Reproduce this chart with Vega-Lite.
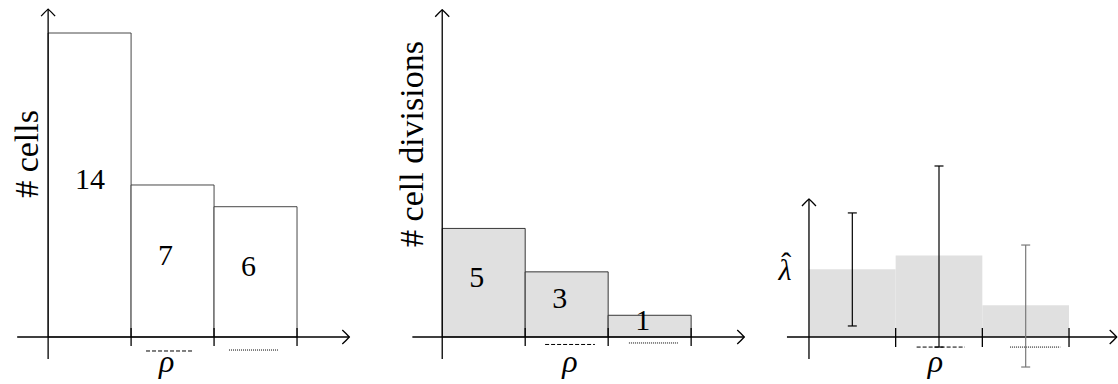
{
  "$schema": "https://vega.github.io/schema/vega-lite/v6.json",
  "padding": 0,
  "spacing": 0,
  "bounds": "flush",
  "background": "white",
  "datasets": {
    "bins": [
      {"bin": 1, "bin_start": 0, "bin_end": 1, "bin_mid": 0.5, "cells": 14, "divisions": 5, "lambda": 0.357, "lo": 0.058, "hi": 0.653},
      {"bin": 2, "bin_start": 1, "bin_end": 2, "bin_mid": 1.5, "cells": 7, "divisions": 3, "lambda": 0.429, "lo": -0.053, "hi": 0.9},
      {"bin": 3, "bin_start": 2, "bin_end": 3, "bin_mid": 2.5, "cells": 6, "divisions": 1, "lambda": 0.167, "lo": -0.158, "hi": 0.484}
    ]
  },
  "data": {"name": "bins"},
  "config": {
    "view": {"stroke": null},
    "axis": {"disable": true},
    "text": {"font": "Liberation Serif", "color": "black"}
  },
  "hconcat": [
    {
      "width": 380,
      "height": 384,
      "resolve": {"scale": {"y": "independent"}},
      "layer": [
        {
          "layer": [
            {
              "mark": {"type": "rect", "fill": "white", "stroke": "#333", "strokeWidth": 0.9},
              "encoding": {
                "x": {"field": "bin_start", "type": "quantitative", "scale": {"domain": [-0.58, 4.0], "nice": false, "zero": false}, "axis": null},
                "x2": {"field": "bin_end"},
                "y": {"field": "cells", "type": "quantitative", "scale": {"domain": [-2.165, 15.52], "nice": false, "zero": false}, "axis": null},
                "y2": {"datum": 0}
              }
            },
            {
              "mark": {"type": "rule", "color": "black", "strokeWidth": 1.3},
              "encoding": {
                "x": {"field": "bin_end", "type": "quantitative", "axis": null},
                "y": {"datum": 0.415, "axis": null},
                "y2": {"datum": -0.415}
              }
            },
            {
              "data": {"values": [{}]},
              "mark": {"type": "rule", "color": "black", "strokeWidth": 1.3},
              "encoding": {"x": {"datum": 0, "axis": null}, "y": {"datum": -1.01, "axis": null}, "y2": {"datum": 15.1}}
            },
            {
              "data": {"values": [{}]},
              "mark": {"type": "rule", "color": "black", "strokeWidth": 1.3},
              "encoding": {"x": {"datum": -0.373, "axis": null}, "x2": {"datum": 3.63}, "y": {"datum": 0, "axis": null}}
            },
            {
              "data": {"values": [{}]},
              "mark": {"type": "point", "shape": "M-1,1 Q-0.4,0.35 0,0 Q0.4,0.35 1,1", "size": 196, "filled": false, "stroke": "black", "strokeWidth": 1.3, "opacity": 1},
              "encoding": {"x": {"datum": 0, "axis": null}, "y": {"datum": 15.1, "axis": null}}
            },
            {
              "data": {"values": [{}]},
              "mark": {"type": "point", "shape": "M-1,-1 Q-0.35,-0.4 0,0 Q-0.35,0.4 -1,1", "size": 196, "filled": false, "stroke": "black", "strokeWidth": 1.3, "opacity": 1},
              "encoding": {"x": {"datum": 3.63, "axis": null}, "y": {"datum": 0, "axis": null}}
            },
            {
              "data": {"values": [{}]},
              "mark": {"type": "rule", "color": "black", "strokeWidth": 1, "strokeDash": [4, 2]},
              "encoding": {"x": {"datum": 1.18, "axis": null}, "x2": {"datum": 1.758}, "y": {"datum": -0.645, "axis": null}}
            },
            {
              "data": {"values": [{}]},
              "mark": {"type": "rule", "color": "black", "strokeWidth": 1, "strokeDash": [1, 1]},
              "encoding": {"x": {"datum": 2.18, "axis": null}, "x2": {"datum": 2.77}, "y": {"datum": -0.6, "axis": null}}
            },
            {
              "data": {"values": [{}]},
              "mark": {"type": "text", "text": "ρ", "font": "Liberation Serif", "fontStyle": "italic", "fontSize": 32, "align": "center", "baseline": "alphabetic"},
              "encoding": {"x": {"datum": 1.43, "axis": null}, "y": {"datum": -1.61, "axis": null}}
            },
            {
              "data": {"values": [{}]},
              "mark": {"type": "text", "text": "# cells", "font": "Liberation Serif", "angle": 270, "fontSize": 34, "align": "center", "baseline": "alphabetic"},
              "encoding": {"x": {"datum": -0.122, "axis": null}, "y": {"datum": 8.43, "axis": null}}
            }
          ]
        },
        {
          "mark": {"type": "text", "font": "Liberation Serif", "align": "left", "baseline": "alphabetic", "dx": 27, "dy": 4, "fontSize": 30},
          "encoding": {
            "x": {"field": "bin_start", "type": "quantitative", "axis": null},
            "y": {"field": "cells", "type": "quantitative", "scale": {"domain": [-4.33, 31.04], "nice": false, "zero": false}, "axis": null},
            "text": {"field": "cells", "type": "quantitative"}
          }
        }
      ]
    },
    {
      "width": 380,
      "height": 384,
      "resolve": {"scale": {"y": "independent"}},
      "layer": [
        {
          "layer": [
            {
              "mark": {"type": "rect", "fill": "#e0e0e0", "stroke": "#222", "strokeWidth": 0.9},
              "encoding": {
                "x": {"field": "bin_start", "type": "quantitative", "scale": {"domain": [-0.75, 3.83], "nice": false, "zero": false}, "axis": null},
                "x2": {"field": "bin_end"},
                "y": {"field": "divisions", "type": "quantitative", "scale": {"domain": [-2.165, 15.52], "nice": false, "zero": false}, "axis": null},
                "y2": {"datum": 0}
              }
            },
            {
              "mark": {"type": "rule", "color": "black", "strokeWidth": 1.3},
              "encoding": {
                "x": {"field": "bin_end", "type": "quantitative", "axis": null},
                "y": {"datum": 0.415, "axis": null},
                "y2": {"datum": -0.415}
              }
            },
            {
              "data": {"values": [{}]},
              "mark": {"type": "rule", "color": "black", "strokeWidth": 1.3},
              "encoding": {"x": {"datum": 0, "axis": null}, "y": {"datum": -1.01, "axis": null}, "y2": {"datum": 15.07}}
            },
            {
              "data": {"values": [{}]},
              "mark": {"type": "rule", "color": "black", "strokeWidth": 1.3},
              "encoding": {"x": {"datum": -0.36, "axis": null}, "x2": {"datum": 3.64}, "y": {"datum": 0, "axis": null}}
            },
            {
              "data": {"values": [{}]},
              "mark": {"type": "point", "shape": "M-1,1 Q-0.4,0.35 0,0 Q0.4,0.35 1,1", "size": 196, "filled": false, "stroke": "black", "strokeWidth": 1.3, "opacity": 1},
              "encoding": {"x": {"datum": 0, "axis": null}, "y": {"datum": 15.07, "axis": null}}
            },
            {
              "data": {"values": [{}]},
              "mark": {"type": "point", "shape": "M-1,-1 Q-0.35,-0.4 0,0 Q-0.35,0.4 -1,1", "size": 196, "filled": false, "stroke": "black", "strokeWidth": 1.3, "opacity": 1},
              "encoding": {"x": {"datum": 3.64, "axis": null}, "y": {"datum": 0, "axis": null}}
            },
            {
              "data": {"values": [{}]},
              "mark": {"type": "rule", "color": "black", "strokeWidth": 1, "strokeDash": [4, 2]},
              "encoding": {"x": {"datum": 1.24, "axis": null}, "x2": {"datum": 1.84}, "y": {"datum": -0.345, "axis": null}}
            },
            {
              "data": {"values": [{}]},
              "mark": {"type": "rule", "color": "black", "strokeWidth": 1, "strokeDash": [1, 1]},
              "encoding": {"x": {"datum": 2.25, "axis": null}, "x2": {"datum": 2.84}, "y": {"datum": -0.276, "axis": null}}
            },
            {
              "data": {"values": [{}]},
              "mark": {"type": "text", "text": "ρ", "font": "Liberation Serif", "fontStyle": "italic", "fontSize": 32, "align": "center", "baseline": "alphabetic"},
              "encoding": {"x": {"datum": 1.54, "axis": null}, "y": {"datum": -1.61, "axis": null}}
            },
            {
              "data": {"values": [{}]},
              "mark": {"type": "text", "text": "# cell divisions", "font": "Liberation Serif", "angle": 270, "fontSize": 34, "align": "center", "baseline": "alphabetic"},
              "encoding": {"x": {"datum": -0.231, "axis": null}, "y": {"datum": 8.89, "axis": null}}
            }
          ]
        },
        {
          "mark": {"type": "text", "font": "Liberation Serif", "align": "left", "baseline": "alphabetic", "dx": 27, "dy": 4, "fontSize": 30},
          "encoding": {
            "x": {"field": "bin_start", "type": "quantitative", "axis": null},
            "y": {"field": "divisions", "type": "quantitative", "scale": {"domain": [-4.33, 31.04], "nice": false, "zero": false}, "axis": null},
            "text": {"field": "divisions", "type": "quantitative"}
          }
        }
      ]
    },
    {
      "width": 358,
      "height": 384,
      "layer": [
        {
          "mark": {"type": "rect", "fill": "#e0e0e0"},
          "encoding": {
            "x": {"field": "bin_start", "type": "quantitative", "scale": {"domain": [-0.565, 3.565], "nice": false, "zero": false}, "axis": null},
            "x2": {"field": "bin_end"},
            "y": {"field": "lambda", "type": "quantitative", "scale": {"domain": [-0.2474, 1.7737], "nice": false, "zero": false}, "axis": null},
            "y2": {"datum": 0}
          }
        },
        {
          "mark": {"type": "rule", "color": "black", "strokeWidth": 1.3},
          "encoding": {
            "x": {"field": "bin_end", "type": "quantitative", "axis": null},
            "y": {"datum": 0.047, "axis": null},
            "y2": {"datum": -0.053}
          }
        },
        {
          "data": {"values": [{}]},
          "mark": {"type": "rule", "color": "black", "strokeWidth": 1.3},
          "encoding": {"x": {"datum": 0, "axis": null}, "y": {"datum": -0.116, "axis": null}, "y2": {"datum": 0.726}}
        },
        {
          "data": {"values": [{}]},
          "mark": {"type": "rule", "color": "black", "strokeWidth": 1.3},
          "encoding": {"x": {"datum": -0.254, "axis": null}, "x2": {"datum": 3.55}, "y": {"datum": 0, "axis": null}}
        },
        {
          "data": {"values": [{}]},
          "mark": {"type": "point", "shape": "M-1,1 Q-0.4,0.35 0,0 Q0.4,0.35 1,1", "size": 196, "filled": false, "stroke": "black", "strokeWidth": 1.3, "opacity": 1},
          "encoding": {"x": {"datum": 0, "axis": null}, "y": {"datum": 0.726, "axis": null}}
        },
        {
          "data": {"values": [{}]},
          "mark": {"type": "point", "shape": "M-1,-1 Q-0.35,-0.4 0,0 Q-0.35,0.4 -1,1", "size": 196, "filled": false, "stroke": "black", "strokeWidth": 1.3, "opacity": 1},
          "encoding": {"x": {"datum": 3.55, "axis": null}, "y": {"datum": 0, "axis": null}}
        },
        {
          "data": {"values": [{}]},
          "mark": {"type": "rule", "color": "black", "strokeWidth": 1, "strokeDash": [4, 2]},
          "encoding": {"x": {"datum": 1.242, "axis": null}, "x2": {"datum": 1.8}, "y": {"datum": -0.053, "axis": null}}
        },
        {
          "data": {"values": [{}]},
          "mark": {"type": "rule", "color": "black", "strokeWidth": 1, "strokeDash": [1, 1]},
          "encoding": {"x": {"datum": 2.32, "axis": null}, "x2": {"datum": 2.9}, "y": {"datum": -0.053, "axis": null}}
        },
        {
          "mark": {"type": "rule", "strokeWidth": 1.2},
          "encoding": {
            "x": {"field": "bin_mid", "type": "quantitative", "axis": null},
            "y": {"field": "lo", "type": "quantitative", "axis": null},
            "y2": {"field": "hi"},
            "color": {"condition": {"test": "datum.bin === 3", "value": "#7a7a7a"}, "value": "black"}
          }
        },
        {
          "mark": {"type": "point", "shape": "stroke", "size": 81, "filled": false, "strokeWidth": 1.2, "opacity": 1},
          "encoding": {
            "x": {"field": "bin_mid", "type": "quantitative", "axis": null},
            "y": {"field": "lo", "type": "quantitative", "axis": null},
            "color": {"condition": {"test": "datum.bin === 3", "value": "#7a7a7a"}, "value": "black"}
          }
        },
        {
          "mark": {"type": "point", "shape": "stroke", "size": 81, "filled": false, "strokeWidth": 1.2, "opacity": 1},
          "encoding": {
            "x": {"field": "bin_mid", "type": "quantitative", "axis": null},
            "y": {"field": "hi", "type": "quantitative", "axis": null},
            "color": {"condition": {"test": "datum.bin === 3", "value": "#7a7a7a"}, "value": "black"}
          }
        },
        {
          "data": {"values": [{}]},
          "mark": {"type": "text", "text": "ρ", "font": "Liberation Serif", "fontStyle": "italic", "fontSize": 32, "align": "center", "baseline": "alphabetic"},
          "encoding": {"x": {"datum": 1.46, "axis": null}, "y": {"datum": -0.184, "axis": null}}
        },
        {
          "data": {"values": [{}]},
          "mark": {"type": "text", "text": "λ", "font": "Liberation Serif", "fontStyle": "italic", "fontSize": 30, "align": "center", "baseline": "alphabetic"},
          "encoding": {"x": {"datum": -0.277, "axis": null}, "y": {"datum": 0.3, "axis": null}}
        },
        {
          "data": {"values": [{}]},
          "mark": {"type": "text", "text": "ˆ", "font": "Liberation Serif", "fontSize": 30, "align": "center", "baseline": "alphabetic"},
          "encoding": {"x": {"datum": -0.262, "axis": null}, "y": {"datum": 0.337, "axis": null}}
        }
      ]
    }
  ]
}
